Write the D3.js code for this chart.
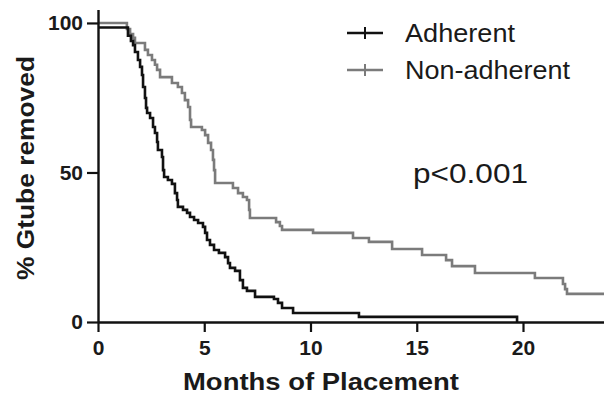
<!DOCTYPE html>
<html>
<head>
<meta charset="utf-8">
<script src="https://cdn.jsdelivr.net/npm/d3@7"></script>
<style>
  html, body { margin: 0; padding: 0; background: #fff; }
  svg { display: block; font-family: Arial, "Liberation Sans", sans-serif; }
</style>
</head>
<body>
<div id="chart"></div>
<script>
// ------------------------------------------------------------------ DATA
// Kaplan-Meier style steps: value holds from each time until the next one
const adherentTime = [0, 1.41, 1.55, 1.65, 1.74, 1.88, 1.98, 2.07, 2.12, 2.21,
  2.26, 2.31, 2.45, 2.59, 2.68, 2.78, 2.82, 3.01, 3.06, 3.11,
  3.29, 3.48, 3.62, 3.72, 3.76, 4.0, 4.19, 4.33, 4.52, 4.71,
  4.94, 5.04, 5.13, 5.27, 5.46, 5.69, 5.98, 6.12, 6.21, 6.45,
  6.68, 6.82, 7.01, 7.39, 8.28, 8.47, 8.66, 9.18, 12.28, 19.72];
const adherentPct = [98.5, 95.7, 94.0, 92.6, 90.3, 87.6, 85.3, 82.6, 78.6, 74.9,
  71.6, 69.9, 68.2, 65.2, 63.2, 60.2, 57.5, 55.2, 50.8, 48.5,
  47.5, 46.2, 43.1, 40.8, 38.5, 37.5, 36.5, 35.1, 34.1, 33.1,
  31.8, 29.8, 27.4, 25.8, 24.1, 23.1, 21.7, 19.7, 18.1, 17.1,
  14.0, 11.4, 10.4, 8.4, 7.7, 6.4, 4.7, 3.0, 1.7, 0];

const nonAdhTime = [0, 1.36, 1.51, 1.65, 1.74, 2.21, 2.35, 2.54, 2.68, 2.78,
  2.92, 3.48, 3.76, 3.95, 4.09, 4.24, 4.33, 4.38, 4.89, 5.04,
  5.18, 5.32, 5.41, 5.46, 5.51, 6.35, 6.59, 6.82, 7.01, 7.11,
  7.15, 8.38, 8.56, 8.66, 10.12, 12.0, 12.75, 13.84, 15.25, 16.38,
  16.66, 17.74, 20.56, 21.88, 21.98, 22.07];
const nonAdhPct = [100, 98.0, 96.3, 95.0, 93.3, 91.0, 89.3, 87.6, 86.0, 84.3,
  81.9, 79.9, 78.6, 76.6, 74.2, 71.9, 67.6, 65.2, 64.2, 62.5,
  59.9, 57.5, 54.2, 50.8, 46.5, 44.8, 43.1, 41.8, 40.8, 37.5,
  34.8, 33.4, 32.1, 30.8, 29.8, 28.1, 26.8, 24.4, 22.4, 20.7,
  18.7, 16.4, 14.7, 12.7, 11.0, 9.4];

const xTicks = [0, 5, 10, 15, 20];
const yTicks = [0, 50, 100];
const seriesNames = ['Adherent', 'Non-adherent'];
const pText = 'p<0.001';

// ------------------------------------------------------------------ SVG
const width = 604, height = 394;
const svg = d3.select('#chart').append('svg')
  .attr('width', width)
  .attr('height', height);

const x = d3.scaleLinear().domain([0, 24]).range([98, 608]);
const y = d3.scaleLinear().domain([0, 104.5]).range([322, 9.5]);

// ------------------------------------------------------------------ CURVES
const line = d3.line()
  .x(d => x(d.t))
  .y(d => y(d.p))
  .curve(d3.curveStepAfter);

const adherent = adherentTime.map((t, i) => ({ t, p: adherentPct[i] }));
const nonAdh = nonAdhTime.map((t, i) => ({ t, p: nonAdhPct[i] }));
nonAdh.push({ t: 24, p: nonAdhPct[nonAdhPct.length - 1] });

svg.append('path')
  .datum(nonAdh)
  .attr('d', line)
  .attr('fill', 'none')
  .attr('stroke', '#7b7b7b')
  .attr('stroke-width', 2.6);

svg.append('path')
  .datum(adherent)
  .attr('d', line)
  .attr('fill', 'none')
  .attr('stroke', '#111')
  .attr('stroke-width', 2.6);

// ------------------------------------------------------------------ AXES
const xAxis = svg.append('g')
  .attr('transform', `translate(0,${y(0)})`)
  .call(d3.axisBottom(x).tickValues(xTicks).tickSize(10).tickSizeOuter(0).tickPadding(8));

const yAxis = svg.append('g')
  .attr('transform', `translate(${x(0)},0)`)
  .call(d3.axisLeft(y).tickValues(yTicks).tickSize(11).tickSizeOuter(0).tickPadding(4));

[xAxis, yAxis].forEach(g => {
  g.select('.domain').attr('stroke', '#111').attr('stroke-width', 2.4);
  g.selectAll('.tick line').attr('stroke', '#111').attr('stroke-width', 2.2);
  g.selectAll('.tick text')
    .attr('fill', '#1a1a1a')
    .attr('font-size', 21)
    .attr('font-weight', 'bold')
    .attr('font-family', 'Arial, "Liberation Sans", sans-serif');
});

// ------------------------------------------------------------------ LABELS
svg.append('text')
  .attr('x', 321).attr('y', 390)
  .attr('text-anchor', 'middle')
  .attr('font-size', 24)
  .attr('font-weight', 'bold')
  .attr('fill', '#1a1a1a')
  .attr('textLength', 276)
  .attr('lengthAdjust', 'spacingAndGlyphs')
  .text('Months of Placement');

svg.append('text')
  .attr('transform', 'translate(34,168) rotate(-90)')
  .attr('text-anchor', 'middle')
  .attr('font-size', 24)
  .attr('font-weight', 'bold')
  .attr('fill', '#1a1a1a')
  .attr('textLength', 224)
  .attr('lengthAdjust', 'spacingAndGlyphs')
  .text('% Gtube removed');

svg.append('text')
  .attr('x', 413).attr('y', 183)
  .attr('font-size', 27)
  .attr('fill', '#1a1a1a')
  .attr('textLength', 115)
  .attr('lengthAdjust', 'spacingAndGlyphs')
  .text(pText);

// ------------------------------------------------------------------ LEGEND
const legendColors = ['#111', '#7b7b7b'];
const legend = svg.append('g')
  .selectAll('g')
  .data(seriesNames)
  .join('g')
  .attr('transform', (d, i) => `translate(347,${33 + i * 37})`);

legend.append('line')
  .attr('x1', 0).attr('x2', 36)
  .attr('stroke', (d, i) => legendColors[i])
  .attr('stroke-width', 2.6);
legend.append('line')
  .attr('x1', 18).attr('x2', 18).attr('y1', -6).attr('y2', 6)
  .attr('stroke', (d, i) => legendColors[i])
  .attr('stroke-width', 2);
legend.append('text')
  .attr('x', 58).attr('y', 9)
  .attr('font-size', 25)
  .attr('fill', '#1a1a1a')
  .attr('textLength', (d, i) => i === 0 ? 110 : 165)
  .attr('lengthAdjust', 'spacingAndGlyphs')
  .text(d => d);
</script>
</body>
</html>
